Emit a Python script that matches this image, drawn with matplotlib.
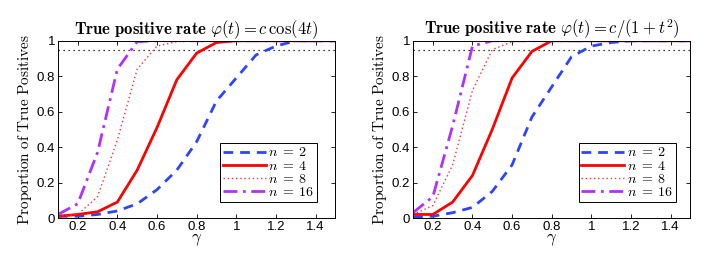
import matplotlib
matplotlib.use("Agg")
import matplotlib.pyplot as plt

plt.rcParams['mathtext.fontset'] = 'cm'
plt.rcParams['font.family'] = ['Liberation Sans', 'DejaVu Sans']

gamma = [0.1, 0.2, 0.3, 0.4, 0.5, 0.6, 0.7, 0.8, 0.9, 1.0, 1.1, 1.2, 1.3, 1.4, 1.5]

# left panel: phi(t) = c cos(4t)
cos_n2 = [0.01, 0.01, 0.02, 0.04, 0.08, 0.16, 0.27, 0.43, 0.66, 0.79, 0.92, 0.97, 1.0, 1.0, 1.0]
cos_n4 = [0.01, 0.02, 0.035, 0.09, 0.27, 0.51, 0.78, 0.93, 0.99, 1.0, 1.0, 1.0, 1.0, 1.0, 1.0]
cos_n8 = [0.01, 0.02, 0.12, 0.44, 0.84, 0.97, 0.995, 1.0, 1.0, 1.0, 1.0, 1.0, 1.0, 1.0, 1.0]
cos_n16 = [0.02, 0.08, 0.37, 0.84, 0.995, 1.0, 1.0, 1.0, 1.0, 1.0, 1.0, 1.0, 1.0, 1.0, 1.0]

# right panel: phi(t) = c/(1+t^2)
rat_n2 = [0.005, 0.01, 0.03, 0.06, 0.15, 0.30, 0.57, 0.74, 0.91, 0.97, 0.99, 1.0, 1.0, 1.0, 1.0]
rat_n4 = [0.02, 0.02, 0.09, 0.24, 0.50, 0.79, 0.94, 1.0, 1.0, 1.0, 1.0, 1.0, 1.0, 1.0, 1.0]
rat_n8 = [0.02, 0.07, 0.30, 0.72, 0.95, 0.995, 1.0, 1.0, 1.0, 1.0, 1.0, 1.0, 1.0, 1.0, 1.0]
rat_n16 = [0.03, 0.12, 0.52, 0.97, 1.0, 1.0, 1.0, 1.0, 1.0, 1.0, 1.0, 1.0, 1.0, 1.0, 1.0]

level = 0.95
labels = [r'$n\;=\;2$', r'$n\;=\;4$', r'$n\;=\;8$', r'$n\;=\;16$']
titles = [r'$\mathbf{True\ positive\ rate}\ \varphi(t) = c\,\cos(4t)$',
          r'$\mathbf{True\ positive\ rate}\ \varphi(t) = c/(1+t^2)$']

styles = [dict(color='#2b45ff', ls=(0, (3.5, 2.5)), lw=2.0),
          dict(color='#ff0000', ls='-', lw=2.0),
          dict(color='#ff3030', ls=(0, (1, 2)), lw=1.0),
          dict(color='#b030ff', ls=(0, (5, 2, 1, 2)), lw=2.0)]

fig = plt.figure(figsize=(7.06, 2.58), dpi=100)
ax1 = fig.add_axes([0.082, 0.155, 0.393, 0.687])
ax2 = fig.add_axes([0.585, 0.155, 0.393, 0.687])

panels = [(ax1, [cos_n2, cos_n4, cos_n8, cos_n16], 0.935),
          (ax2, [rat_n2, rat_n4, rat_n8, rat_n16], 0.948)]

for k, (ax, series, lx) in enumerate(panels):
    ax.plot([0.1, 1.5], [level, level], color='k', ls=(0, (1, 3)), lw=0.9)
    for ys, st, lab in zip(series, styles, labels):
        ax.plot(gamma, ys, label=lab, **st)
    ax.set_xlim(0.1, 1.5)
    ax.set_ylim(0, 1)
    ax.set_xticks([0.2, 0.4, 0.6, 0.8, 1.0, 1.2, 1.4])
    ax.set_xticklabels(['0.2', '0.4', '0.6', '0.8', '1', '1.2', '1.4'])
    ax.set_yticks([0, 0.2, 0.4, 0.6, 0.8, 1.0])
    ax.set_yticklabels(['0', '0.2', '0.4', '0.6', '0.8', '1'])
    ax.tick_params(direction='in', top=True, right=True, labelsize=9.5, length=3, width=0.6, pad=2)
    for sp in ax.spines.values():
        sp.set_linewidth(0.7)
    ax.set_xlabel(r'$\gamma$', fontsize=12, labelpad=-1)
    ax.set_ylabel(r'$\mathrm{Proportion\ of\ True\ Positives}$', fontsize=11, labelpad=2)
    ax.set_title(titles[k], fontsize=12, pad=5)
    leg = ax.legend(loc='lower right', bbox_to_anchor=(lx, 0.09), fontsize=10,
                    handlelength=3.1, handletextpad=0.2, borderpad=0.2,
                    labelspacing=-0.05, borderaxespad=0, fancybox=False,
                    edgecolor='k', framealpha=1)
    leg.get_frame().set_linewidth(0.7)

fig.savefig('out.png', dpi=100)
